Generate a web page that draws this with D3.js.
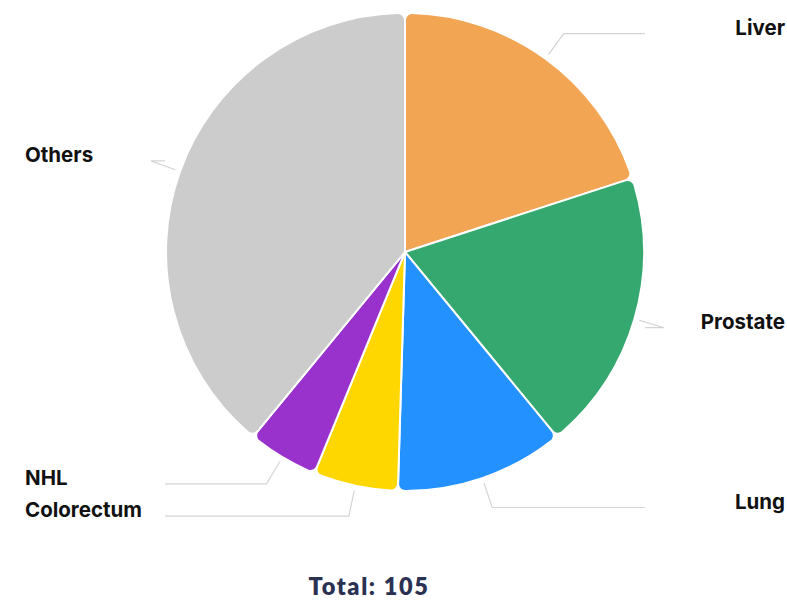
<!DOCTYPE html>
<html>
<head>
<meta charset="utf-8">
<script src="https://cdn.jsdelivr.net/npm/d3@7"></script>
<style>
  body { margin: 0; background: #fff; }
  .label { font-family: Inter, "Liberation Sans", sans-serif; font-weight: 700; font-size: 20.5px; fill: #111; }
  .total { font-family: Lato, "Open Sans", sans-serif; font-weight: 800; font-size: 23.5px; fill: #2b3152; letter-spacing: 1.6px; }
</style>
</head>
<body>
<div id="chart"></div>
<script>
const categories = ["Liver", "Prostate", "Lung", "Colorectum", "NHL", "Others"];
const values = [21, 20, 12, 6, 5, 41];
const colors = ["#F2A654", "#35A86F", "#2391FF", "#FFD700", "#9932CC", "#CCCCCC"];

const width = 787, height = 603;
const cx = 405, cy = 252, radius = 239;

const data = categories.map((c, i) => ({name: c, value: values[i], color: colors[i]}));
const total = d3.sum(values);

const svg = d3.select("#chart").append("svg")
    .attr("width", width)
    .attr("height", height);

const g = svg.append("g").attr("transform", `translate(${cx},${cy})`);

const pie = d3.pie().sort(null).value(d => d.value);
const arc = d3.arc().innerRadius(0).outerRadius(radius).cornerRadius(7);
const arcs = pie(data);

g.selectAll("path.slice")
    .data(arcs)
    .join("path")
    .attr("class", "slice")
    .attr("d", arc)
    .attr("fill", d => d.data.color)
    .attr("stroke", "#fff")
    .attr("stroke-width", 2);

// leader lines + labels
const inner = d3.arc().innerRadius(radius + 5).outerRadius(radius + 5);
const outer = d3.arc().innerRadius(radius + 31).outerRadius(radius + 31);

arcs.forEach(d => {
    const p1 = inner.centroid(d);
    const p2 = outer.centroid(d);
    const mid = (d.startAngle + d.endAngle) / 2;
    const right = mid < Math.PI;
    const endX = right ? 645 - cx : 165 - cx;
    const pts = [p1, p2, [endX, p2[1]]];

    g.append("path")
        .attr("d", d3.line()(pts))
        .attr("fill", "none")
        .attr("stroke", "#d4d4d4")
        .attr("stroke-width", 1.2);

    svg.append("text")
        .attr("class", "label")
        .attr("x", right ? 785 : 25)
        .attr("y", cy + p2[1] - 6)
        .attr("dy", "0.35em")
        .attr("text-anchor", right ? "end" : "start")
        .text(d.data.name);
});

svg.append("text")
    .attr("class", "total")
    .attr("x", 369)
    .attr("y", 595)
    .attr("text-anchor", "middle")
    .text(`Total: ${total}`);
</script>
</body>
</html>
